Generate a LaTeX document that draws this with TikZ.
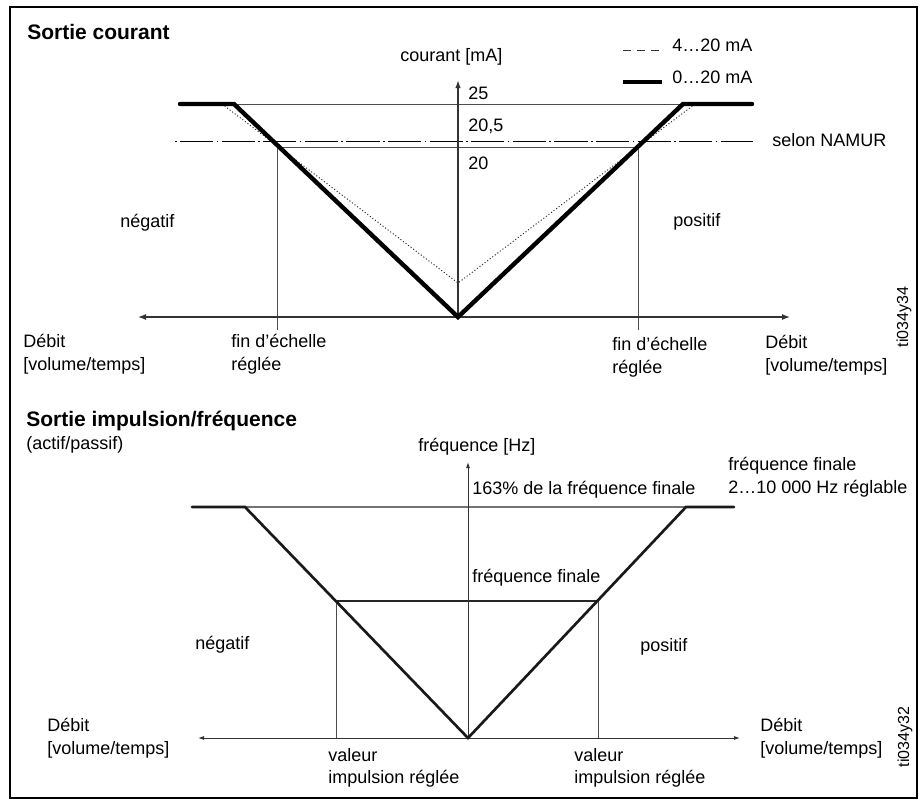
\documentclass[tikz,border=0pt]{standalone}
\usepackage{fontspec}
\setmainfont{Liberation Sans}
\usetikzlibrary{arrows.meta,positioning}

\begin{document}
\begin{tikzpicture}[x=0.75pt,y=-0.75pt,node distance=10pt]
\tikzstyle{txt} = [inner sep=0pt, anchor=west, align=left, font=\fontsize{13.5}{17}\selectfont]
\tikzstyle{titletxt} = [inner sep=0pt, anchor=west, font=\fontsize{15.75}{19}\selectfont\bfseries]
\tikzstyle{codetxt} = [inner sep=0pt, rotate=90, font=\fontsize{12}{14}\selectfont]
\tikzstyle{axisline} = [draw=black!80, line width=1pt]
\tikzstyle{thinline} = [draw=black!70, line width=0.7pt]
\tikzstyle{thickline} = [draw=black, line width=3.3pt, line cap=round]
\tikzstyle{midline} = [draw=black!90, line width=2pt, line cap=round]
\tikzstyle{dotline} = [draw=black!85, line width=0.7pt, dash pattern=on 0.8pt off 1.6pt]
\tikzstyle{namurline} = [draw=black, line width=0.7pt, dash pattern=on 1.2pt off 2.5pt on 25pt off 2.5pt]

\useasboundingbox (0,0) rectangle (922,803);
\draw[line width=1.5pt] (10,7) rectangle (917,798);

% Sortie courant
\node[titletxt] (titleCurrent) at (27,32) {Sortie courant};
\node[txt] (currentAxisName) at (400,57) {courant [mA]};

% legend
\coordinate (legDashL) at (623,50);
\coordinate (legDashR) at (659,50);
\coordinate (legThickL) at (623,82);
\coordinate (legThickR) at (662,82);
\draw[draw=black!80, line width=0.6pt, dash pattern=on 6pt off 4.5pt] (legDashL) -- (legDashR);
\draw[line width=3pt] (legThickL) -- (legThickR);
\node[txt] (legFour) at (672,45) {4…20 mA};
\node[txt] (legZero) at (672,77) {0…20 mA};

\coordinate (originA) at (458,317);
\coordinate (topA) at (458,80);
\coordinate (leftA) at (138,317);
\coordinate (rightA) at (790,317);
\coordinate (flatLA) at (180,104);
\coordinate (cornerLA) at (234,104);
\coordinate (cornerRA) at (683,104);
\coordinate (flatRA) at (752,104);
\coordinate (dotBottomA) at (458,283);
\coordinate (dotLA) at (222,104);
\coordinate (dotRA) at (695,104);
\coordinate (namurL) at (175,141);
\coordinate (namurR) at (753,141);
\coordinate (scaleLA) at (277,147);
\coordinate (scaleRA) at (638,147);
\coordinate (scaleLAbot) at (277,330);
\coordinate (scaleRAbot) at (638,330);

\draw[thinline] (cornerLA) -- (cornerRA);
\draw[thinline] (scaleLA) -- (scaleRA);
\draw[thinline] (scaleLA) -- (scaleLAbot);
\draw[thinline] (scaleRA) -- (scaleRAbot);
\draw[namurline] (namurL) -- (namurR);
\draw[axisline, -{Latex[length=6pt,width=4pt]}] (originA) -- (topA);
\draw[axisline, {Latex[length=6pt,width=4.5pt]}-{Latex[length=6pt,width=4.5pt]}] (leftA) -- (rightA);
\draw[dotline] (dotLA) -- (dotBottomA) -- (dotRA);
\draw[thickline] (flatLA) -- (cornerLA) -- (originA) -- (cornerRA) -- (flatRA);

\node[txt] (valTwentyFive) at (468,93) {25};
\node[txt] (valNamur) at (468,126) {20,5};
\node[txt] (valTwenty) at (468,163) {20};
\node[txt] (namurText) at (772,140) {selon NAMUR};
\node[txt] (negA) at (120,223) {négatif};
\node[txt] (posA) at (673,222) {positif};
\node[txt] (flowLA) at (23,354) {Débit\\{}[volume/temps]};
\node[txt] (scaleTextLA) at (231,354) {fin d’échelle\\réglée};
\node[txt] (scaleTextRA) at (612,357) {fin d’échelle\\réglée};
\node[txt] (flowRA) at (765,355) {Débit\\{}[volume/temps]};
\node[codetxt] (codeA) at (904,317) {ti034y34};

% Sortie impulsion/frequence
\node[titletxt] (titlePulse) at (26,421) {Sortie impulsion/fréquence};
\node[txt] (activePassive) at (26,445) {(actif/passif)};
\node[txt] (freqAxisName) at (418,447) {fréquence [Hz]};

\coordinate (originB) at (468,738);
\coordinate (topB) at (468,462);
\coordinate (leftB) at (198,738);
\coordinate (rightB) at (740,738);
\coordinate (flatLB) at (192,507);
\coordinate (cornerLB) at (245,507);
\coordinate (cornerRB) at (686,507);
\coordinate (flatRB) at (734,507);
\coordinate (pulseLB) at (336,601);
\coordinate (pulseRB) at (598,601);
\coordinate (pulseLBbot) at (336,738);
\coordinate (pulseRBbot) at (598,738);

\draw[draw=black!55, line width=0.8pt] (cornerLB) -- (cornerRB);
\draw[draw=black!85, line width=0.8pt] (pulseLB) -- (pulseRB);
\draw[thinline] (pulseLB) -- (pulseLBbot);
\draw[thinline] (pulseRB) -- (pulseRBbot);
\draw[axisline, line width=0.7pt, -{Latex[length=4.5pt,width=3pt]}] (originB) -- (topB);
\draw[axisline, line width=0.7pt, {Latex[length=4.5pt,width=3pt]}-{Latex[length=4.5pt,width=3pt]}] (leftB) -- (rightB);
\draw[midline] (flatLB) -- (cornerLB) -- (originB) -- (cornerRB) -- (flatRB);

\node[txt] (maxFreq) at (472,490) {163\% de la fréquence finale};
\node[txt] (endFreqRange) at (728,477) {fréquence finale\\2…10 000 Hz réglable};
\node[txt] (endFreq) at (472,578) {fréquence finale};
\node[txt] (negB) at (195,645) {négatif};
\node[txt] (posB) at (640,647) {positif};
\node[txt] (flowLB) at (47,738) {Débit\\{}[volume/temps]};
\node[txt] (flowRB) at (760,738) {Débit\\{}[volume/temps]};
\node[txt] (pulseTextLB) at (328,768) {valeur\\impulsion réglée};
\node[txt] (pulseTextRB) at (574,768) {valeur\\impulsion réglée};
\node[codetxt] (codeB) at (905,737) {ti034y32};
\end{tikzpicture}
\end{document}
